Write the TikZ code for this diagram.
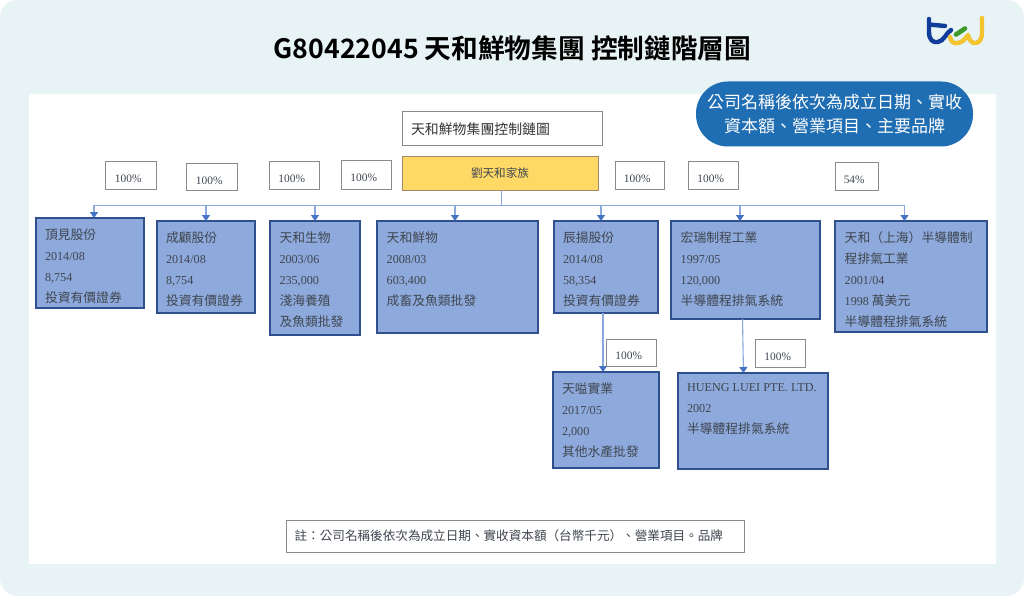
\documentclass[tikz,border=0pt]{standalone}
\usepackage{fontspec}
\usetikzlibrary{arrows.meta}
\setmainfont{Noto Sans CJK TC}[BoldFont={Noto Sans CJK TC Bold}]
\newfontfamily\lat{Liberation Serif}[Scale=0.95]
\definecolor{pagebg}{HTML}{E8F3F5}
\definecolor{cofill}{HTML}{8EA9DB}
\definecolor{coedge}{HTML}{2F4F8F}
\definecolor{cotxt}{HTML}{3F4650}
\definecolor{pillblue}{HTML}{1F6DB2}
\definecolor{famyellow}{HTML}{FFD966}
\definecolor{boxgray}{HTML}{8A8A8A}
\definecolor{linkblue}{HTML}{8AA8DE}
\definecolor{tipblue}{HTML}{4472C4}
\definecolor{logoblue}{HTML}{103C9C}
\definecolor{logoyellow}{HTML}{F4C430}
\definecolor{logogreen}{HTML}{3E9A2E}
\tikzset{
  cobox/.style={draw=coedge,line width=1.5pt,fill=cofill,inner sep=0,outer sep=0},
  cotext/.style={inner sep=0,outer sep=0,anchor=north west,align=left,text=cotxt,font=\fontsize{12.8}{21}\selectfont},
  pctbox/.style={draw=boxgray,line width=1pt,fill=white,inner sep=0,outer sep=0,text=cotxt,font=\lat\fontsize{12}{14}\selectfont},
  plainbox/.style={draw=boxgray,line width=1pt,fill=white,inner sep=0,outer sep=0,text=black!80},
  link/.style={draw=linkblue,line width=1.1pt,-{Triangle[length=6pt,width=8pt,fill=tipblue,color=tipblue]}},
  logoB/.style={draw=logoblue,line width=4.4pt,line cap=round,line join=round},
  logoY/.style={draw=logoyellow,line width=4.4pt,line cap=round,line join=round},
}
\newcommand{\cobx}[8]{% name x1 y1 x2 y2 tx ty text
  \node[cobox,minimum width={(#4-#2)*1pt},minimum height={(#5-#3)*1pt}] (#1) at ({(#2+#4)/2},{(#3+#5)/2}) {};
  \node[cotext] (#1t) at (#6,#7) {#8};}
\newcommand{\pct}[6]{% name x1 y1 x2 y2 text
  \node[pctbox,minimum width={(#4-#2)*1pt},minimum height={(#5-#3)*1pt}] (#1) at ({(#2+#4)/2},{(#3+#5)/2}) {\raisebox{-7pt}[0pt][0pt]{\makebox[0pt]{\hspace*{-4.6pt}#6}}};}
\begin{document}
\begin{tikzpicture}[x=1pt,y=-1pt]
\useasboundingbox (0,0) rectangle (1024,596);
\fill[white] (0,0) rectangle (1024,596);
\fill[pagebg,rounded corners=18pt] (0,0) rectangle (1024,596);
\fill[white] (29,94) rectangle (996,564);
\node[font=\bfseries\fontsize{26.7}{30}\selectfont,text=black,inner sep=0] (title) at (512.5,48) {G80422045 天和鮮物集團 控制鏈階層圖};
% logo
\draw[logoB] (929,19) -- (929,32) .. controls (929,40) and (933,43) .. (938,42) .. controls (944,41) and (946,33) .. (951,30);
\draw[logoB] (929,24.5) -- (945,26);
\draw[logoY] (950,37) .. controls (951,42) and (954,44) .. (958,43) .. controls (963,42) and (966,38) .. (968,35) .. controls (969,40) and (972,44) .. (976,43) .. controls (981,42) and (982,37) .. (982,32) -- (982,18);
\draw[logogreen,line width=4.6pt,line cap=round] (956,34.5) -- (965,28.5);
% legend pill
\node[fill=pillblue,draw=none,rounded corners=32pt,minimum width=277pt,minimum height=65pt,inner sep=0,text=white,align=center,font=\fontsize{17}{24}\selectfont] (pill) at (834.5,114) {公司名稱後依次為成立日期、實收\\資本額、營業項目、主要品牌};
% header boxes
\node[plainbox,minimum width=200pt,minimum height=34pt,font=\fontsize{13.9}{16}\selectfont,anchor=west,text width=182pt,align=left,inner xsep=9pt] (head) at (402,129) {天和鮮物集團控制鏈圖};
\node[draw=boxgray!80!orange,line width=1pt,fill=famyellow,minimum width=196pt,minimum height=33pt,inner sep=0,outer sep=0,text=cotxt,font=\fontsize{11.6}{14}\selectfont] (fam) at (500,173.5) {劉天和家族};
% percentages
\pct{p1}{105}{162}{156}{189}{100\%}
\pct{p2}{186}{164}{237}{190}{100\%}
\pct{p3}{269}{162}{319}{189}{100\%}
\pct{p4}{341}{161}{391}{189}{100\%}
\pct{p5}{615}{162}{664}{189}{100\%}
\pct{p6}{688}{162}{738}{189}{100\%}
\pct{p7}{835}{163}{878}{190}{54\%}
\pct{p8}{606}{339}{656}{366}{100\%}
\pct{p9}{755}{339}{805}{367}{100\%}
% companies
\cobx{c1}{36}{218}{144}{308}{45}{228.5}{頂見股份\\{\lat 2014/08}\\{\lat 8,754}\\投資有價證券}
\cobx{c2}{157}{221}{255}{313}{166}{231.5}{成顧股份\\{\lat 2014/08}\\{\lat 8,754}\\投資有價證券}
\cobx{c3}{270}{221}{360}{335}{279.5}{231.5}{天和生物\\{\lat 2003/06}\\{\lat 235,000}\\淺海養殖\\及魚類批發}
\cobx{c4}{377}{221}{538}{333}{386.7}{231.5}{天和鮮物\\{\lat 2008/03}\\{\lat 603,400}\\成畜及魚類批發}
\cobx{c5}{554}{221}{658}{313}{563}{231.5}{辰揚股份\\{\lat 2014/08}\\{\lat 58,354}\\投資有價證券}
\cobx{c6}{671}{221}{820}{319}{680.7}{231.5}{宏瑞制程工業\\{\lat 1997/05}\\{\lat 120,000}\\半導體程排氣系統}
\cobx{c7}{835}{221}{987}{332}{844.7}{231.5}{天和（上海）半導體制\\程排氣工業\\{\lat 2001/04}\\{\lat 1998} 萬美元\\半導體程排氣系統}
\cobx{c8}{553}{372}{659}{468}{562}{382.5}{天嗌實業\\{\lat 2017/05}\\{\lat 2,000}\\其他水產批發}
\cobx{c9}{678}{373}{828}{469}{687}{383.5}{{\lat HUENG LUEI PTE. LTD.}\\{\lat 2002}\\半導體程排氣系統}
% connectors
\draw[link] ([xshift=1.5pt]fam.south) -- ++(0,15.5) -| ([xshift=4pt]c1.north);
\draw[link] ([xshift=1.5pt]fam.south) -- ++(0,15.5) -| (c2.north);
\draw[link] ([xshift=1.5pt]fam.south) -- ++(0,15.5) -| (c3.north);
\draw[link] ([xshift=1.5pt]fam.south) -- ++(0,15.5) -| ([xshift=-2.5pt]c4.north);
\draw[link] ([xshift=1.5pt]fam.south) -- ++(0,15.5) -| ([xshift=-5pt]c5.north);
\draw[link] ([xshift=1.5pt]fam.south) -- ++(0,15.5) -| ([xshift=-5.5pt]c6.north);
\draw[link] ([xshift=1.5pt]fam.south) -- ++(0,15.5) -| ([xshift=-6.5pt]c7.north);
\draw[link] ([xshift=-3pt]c5.south) -- ([xshift=-3pt]c5.south |- c8.north);
\draw[link] ([xshift=-3pt]c6.south) -- ([xshift=-9.5pt]c9.north);
% note
\node[draw=boxgray,line width=1pt,fill=white,minimum width=458pt,minimum height=32pt,inner sep=0,outer sep=0,text=cotxt,font=\fontsize{12.6}{15}\selectfont] (note) at (515,536) {\makebox[0pt]{\hspace*{-12.4pt}註：公司名稱後依次為成立日期、實收資本額（台幣千元）、營業項目。品牌}};
\end{tikzpicture}
\end{document}
